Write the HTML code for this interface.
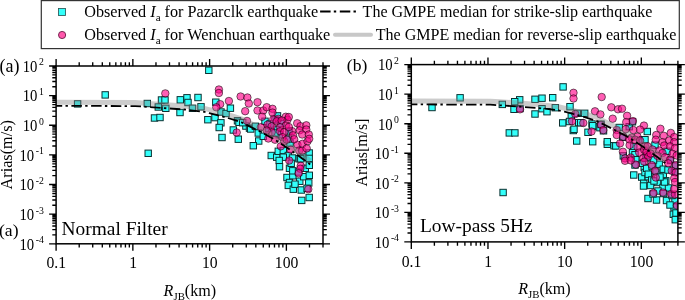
<!DOCTYPE html>
<html><head><meta charset="utf-8"><style>html,body{margin:0;padding:0;background:#fff;width:685px;height:300px;overflow:hidden}</style></head>
<body>
<svg width="685" height="300" viewBox="0 0 685 300" style="display:block;will-change:transform;font-family:'Liberation Serif', serif">
<style>.s{fill:#33fffa;stroke:#0c3232;stroke-width:1}.c{fill:rgb(255,0,137);fill-opacity:0.63;stroke:#000;stroke-opacity:0.6;stroke-width:0.9}</style>
<rect width="685" height="300" fill="#fff"/>
<g clip-path="url(#clipL)">
<rect x="74.4" y="100.7" width="6.4" height="6.4" class="s"/>
<rect x="102" y="91.7" width="6.4" height="6.4" class="s"/>
<rect x="144.1" y="100.3" width="6.4" height="6.4" class="s"/>
<rect x="151.3" y="114.8" width="6.4" height="6.4" class="s"/>
<rect x="156.8" y="114.3" width="6.4" height="6.4" class="s"/>
<rect x="145" y="150.1" width="6.4" height="6.4" class="s"/>
<rect x="205.6" y="67.1" width="6.4" height="6.4" class="s"/>
<rect x="158.3" y="96.8" width="6.4" height="6.4" class="s"/>
<rect x="161.8" y="96.8" width="6.4" height="6.4" class="s"/>
<rect x="155.1" y="103.8" width="6.4" height="6.4" class="s"/>
<rect x="162.6" y="105.1" width="6.4" height="6.4" class="s"/>
<rect x="177.1" y="96.6" width="6.4" height="6.4" class="s"/>
<rect x="183.8" y="94.6" width="6.4" height="6.4" class="s"/>
<rect x="184.8" y="99.3" width="6.4" height="6.4" class="s"/>
<rect x="194.8" y="94.3" width="6.4" height="6.4" class="s"/>
<rect x="176.8" y="109.3" width="6.4" height="6.4" class="s"/>
<rect x="189.3" y="105.1" width="6.4" height="6.4" class="s"/>
<rect x="197.8" y="103.6" width="6.4" height="6.4" class="s"/>
<rect x="212.6" y="99" width="6.4" height="6.4" class="s"/>
<rect x="204.65" y="116.5" width="6.4" height="6.4" class="s"/>
<rect x="211.8" y="114.4" width="6.4" height="6.4" class="s"/>
<rect x="217.7" y="119.6" width="6.4" height="6.4" class="s"/>
<rect x="216" y="124.3" width="6.4" height="6.4" class="s"/>
<rect x="217.8" y="108.8" width="6.4" height="6.4" class="s"/>
<rect x="222.8" y="110.3" width="6.4" height="6.4" class="s"/>
<rect x="227.2" y="105" width="6.4" height="6.4" class="s"/>
<rect x="234.3" y="117.6" width="6.4" height="6.4" class="s"/>
<rect x="230.1" y="126.8" width="6.4" height="6.4" class="s"/>
<rect x="218.8" y="134.3" width="6.4" height="6.4" class="s"/>
<rect x="235.1" y="136" width="6.4" height="6.4" class="s"/>
<rect x="242.7" y="122.85" width="6.4" height="6.4" class="s"/>
<rect x="246.3" y="124.95" width="6.4" height="6.4" class="s"/>
<rect x="235.8" y="119.1" width="6.4" height="6.4" class="s"/>
<rect x="239.5" y="119.5" width="6.4" height="6.4" class="s"/>
<rect x="247.5" y="125.8" width="6.4" height="6.4" class="s"/>
<rect x="255.5" y="137.8" width="6.4" height="6.4" class="s"/>
<rect x="250.1" y="142.5" width="6.4" height="6.4" class="s"/>
<rect x="261.8" y="118.1" width="6.4" height="6.4" class="s"/>
<rect x="274.3" y="112.7" width="6.4" height="6.4" class="s"/>
<rect x="252.2" y="123.1" width="6.4" height="6.4" class="s"/>
<rect x="255.1" y="129.8" width="6.4" height="6.4" class="s"/>
<rect x="260.1" y="133.1" width="6.4" height="6.4" class="s"/>
<rect x="273.5" y="126.1" width="6.4" height="6.4" class="s"/>
<rect x="276" y="131.5" width="6.4" height="6.4" class="s"/>
<rect x="268.05" y="152.3" width="6.4" height="6.4" class="s"/>
<rect x="273.5" y="154" width="6.4" height="6.4" class="s"/>
<rect x="275.1" y="148.1" width="6.4" height="6.4" class="s"/>
<rect x="280.1" y="147.3" width="6.4" height="6.4" class="s"/>
<rect x="286.8" y="139.8" width="6.4" height="6.4" class="s"/>
<rect x="285.1" y="152.3" width="6.4" height="6.4" class="s"/>
<rect x="280.1" y="154" width="6.4" height="6.4" class="s"/>
<rect x="276" y="157.3" width="6.4" height="6.4" class="s"/>
<rect x="296" y="155.6" width="6.4" height="6.4" class="s"/>
<rect x="300.1" y="154" width="6.4" height="6.4" class="s"/>
<rect x="289.3" y="154.8" width="6.4" height="6.4" class="s"/>
<rect x="306" y="149.8" width="6.4" height="6.4" class="s"/>
<rect x="306" y="155.2" width="6.4" height="6.4" class="s"/>
<rect x="297.6" y="155.6" width="6.4" height="6.4" class="s"/>
<rect x="276.3" y="163.5" width="6.4" height="6.4" class="s"/>
<rect x="286.3" y="165.1" width="6.4" height="6.4" class="s"/>
<rect x="283.8" y="174.3" width="6.4" height="6.4" class="s"/>
<rect x="289.6" y="172.6" width="6.4" height="6.4" class="s"/>
<rect x="296.55" y="178.05" width="6.4" height="6.4" class="s"/>
<rect x="286.3" y="179.3" width="6.4" height="6.4" class="s"/>
<rect x="289.6" y="167.6" width="6.4" height="6.4" class="s"/>
<rect x="288" y="160.1" width="6.4" height="6.4" class="s"/>
<rect x="302.1" y="165.1" width="6.4" height="6.4" class="s"/>
<rect x="300.5" y="173.5" width="6.4" height="6.4" class="s"/>
<rect x="285.1" y="182.2" width="6.4" height="6.4" class="s"/>
<rect x="290.1" y="186" width="6.4" height="6.4" class="s"/>
<rect x="291.8" y="181" width="6.4" height="6.4" class="s"/>
<rect x="298.05" y="186.8" width="6.4" height="6.4" class="s"/>
<rect x="305.55" y="179.7" width="6.4" height="6.4" class="s"/>
<rect x="306" y="194.3" width="6.4" height="6.4" class="s"/>
<rect x="298.5" y="197.2" width="6.4" height="6.4" class="s"/>
<rect x="303.9" y="185.1" width="6.4" height="6.4" class="s"/>
<rect x="306.1" y="162.1" width="6.4" height="6.4" class="s"/>
<rect x="306.1" y="172.1" width="6.4" height="6.4" class="s"/>
<rect x="295.3" y="168.8" width="6.4" height="6.4" class="s"/>
<rect x="271.8" y="116.8" width="6.4" height="6.4" class="s"/>
<rect x="277.8" y="120.3" width="6.4" height="6.4" class="s"/>
<rect x="265.3" y="125.3" width="6.4" height="6.4" class="s"/>
<rect x="285.8" y="127.8" width="6.4" height="6.4" class="s"/>
<rect x="285.3" y="135.8" width="6.4" height="6.4" class="s"/>
<rect x="271.8" y="129.8" width="6.4" height="6.4" class="s"/>
<rect x="266.8" y="120.8" width="6.4" height="6.4" class="s"/>
<circle cx="165.3" cy="93.4" r="3.75" class="c"/>
<circle cx="218.9" cy="89.5" r="3.75" class="c"/>
<circle cx="218.9" cy="93" r="3.75" class="c"/>
<circle cx="220.2" cy="104.2" r="3.75" class="c"/>
<circle cx="216.3" cy="107.3" r="3.75" class="c"/>
<circle cx="228.9" cy="101" r="3.75" class="c"/>
<circle cx="240.6" cy="96.5" r="3.75" class="c"/>
<circle cx="247.4" cy="97.5" r="3.75" class="c"/>
<circle cx="248.8" cy="103.5" r="3.75" class="c"/>
<circle cx="245.2" cy="111.2" r="3.75" class="c"/>
<circle cx="247" cy="120.95" r="3.75" class="c"/>
<circle cx="236.7" cy="132.5" r="3.75" class="c"/>
<circle cx="257.5" cy="102.2" r="3.75" class="c"/>
<circle cx="257.5" cy="110.5" r="3.75" class="c"/>
<circle cx="263.3" cy="110.5" r="3.75" class="c"/>
<circle cx="266.7" cy="107.2" r="3.75" class="c"/>
<circle cx="272.5" cy="108.8" r="3.75" class="c"/>
<circle cx="272.5" cy="112.6" r="3.75" class="c"/>
<circle cx="262.1" cy="116.75" r="3.75" class="c"/>
<circle cx="273.35" cy="119.25" r="3.75" class="c"/>
<circle cx="278.3" cy="118.8" r="3.75" class="c"/>
<circle cx="285.8" cy="116.75" r="3.75" class="c"/>
<circle cx="287.5" cy="119.7" r="3.75" class="c"/>
<circle cx="260.8" cy="127.2" r="3.75" class="c"/>
<circle cx="267.5" cy="124.7" r="3.75" class="c"/>
<circle cx="271.7" cy="126.3" r="3.75" class="c"/>
<circle cx="276.7" cy="121.3" r="3.75" class="c"/>
<circle cx="281.7" cy="120.5" r="3.75" class="c"/>
<circle cx="285.8" cy="125.5" r="3.75" class="c"/>
<circle cx="280" cy="127.2" r="3.75" class="c"/>
<circle cx="271.7" cy="132.2" r="3.75" class="c"/>
<circle cx="266.7" cy="130.5" r="3.75" class="c"/>
<circle cx="280" cy="131.3" r="3.75" class="c"/>
<circle cx="284.2" cy="132.2" r="3.75" class="c"/>
<circle cx="282.5" cy="137.2" r="3.75" class="c"/>
<circle cx="288.8" cy="117" r="3.75" class="c"/>
<circle cx="297.2" cy="123.25" r="3.75" class="c"/>
<circle cx="300.5" cy="126.2" r="3.75" class="c"/>
<circle cx="306.3" cy="125.3" r="3.75" class="c"/>
<circle cx="299.7" cy="130.3" r="3.75" class="c"/>
<circle cx="306.3" cy="129.5" r="3.75" class="c"/>
<circle cx="292.2" cy="131.2" r="3.75" class="c"/>
<circle cx="288.8" cy="127" r="3.75" class="c"/>
<circle cx="302.2" cy="134.5" r="3.75" class="c"/>
<circle cx="308.8" cy="134.5" r="3.75" class="c"/>
<circle cx="293" cy="135.3" r="3.75" class="c"/>
<circle cx="275" cy="139.7" r="3.75" class="c"/>
<circle cx="280.8" cy="146.3" r="3.75" class="c"/>
<circle cx="284.2" cy="141.3" r="3.75" class="c"/>
<circle cx="290.8" cy="149.7" r="3.75" class="c"/>
<circle cx="297.5" cy="144.7" r="3.75" class="c"/>
<circle cx="299.2" cy="150.5" r="3.75" class="c"/>
<circle cx="302.5" cy="143.8" r="3.75" class="c"/>
<circle cx="294.2" cy="139.25" r="3.75" class="c"/>
<circle cx="289.2" cy="160.5" r="3.75" class="c"/>
<circle cx="302.1" cy="150.65" r="3.75" class="c"/>
<circle cx="307.5" cy="141.3" r="3.75" class="c"/>
<circle cx="309.2" cy="138.8" r="3.75" class="c"/>
<circle cx="306.7" cy="148.4" r="3.75" class="c"/>
<circle cx="286.7" cy="139.7" r="3.75" class="c"/>
<circle cx="300.75" cy="165.8" r="3.75" class="c"/>
<circle cx="300.3" cy="168.75" r="3.75" class="c"/>
<circle cx="298.7" cy="173.3" r="3.75" class="c"/>
<circle cx="308.3" cy="189.2" r="3.75" class="c"/>
<circle cx="268.3" cy="138.5" r="3.75" class="c"/>
<path d="M56.1 102.3 L135.1 102.6 L144.7 103.2 L184.1 106 L203.1 108.2 L209.3 109.6 L227.3 114.3 L241.3 118.8 L259.1 127.6 L274.8 136.1 L289.9 146.1 L301.8 154.7 L310.3 161.1" stroke="rgb(128,128,128)" stroke-opacity="0.4" stroke-width="5" fill="none" stroke-linejoin="round"/>
<path d="M56.1 105.8 L135.1 106.1 L144.7 106.7 L184.1 109.5 L203.1 111.7 L209.3 113.1 L227.3 117.8 L241.3 122.3 L259.1 131.1 L274.8 139.6 L289.9 149.6 L301.8 158.2 L310.3 164.6" stroke="#000" stroke-width="1.8" fill="none" stroke-dasharray="10.5 3.3 2.4 3.5" stroke-dashoffset="4.4"/>
</g>
<path d="M56.1 243.8h-7M323 243.8h7M56.1 234.88h-3.8M323 234.88h3.8M56.1 229.66h-3.8M323 229.66h3.8M56.1 225.96h-3.8M323 225.96h3.8M56.1 223.09h-3.8M323 223.09h3.8M56.1 220.74h-3.8M323 220.74h3.8M56.1 218.76h-3.8M323 218.76h3.8M56.1 217.04h-3.8M323 217.04h3.8M56.1 215.52h-3.8M323 215.52h3.8M56.1 214.17h-7M323 214.17h7M56.1 205.25h-3.8M323 205.25h3.8M56.1 200.03h-3.8M323 200.03h3.8M56.1 196.33h-3.8M323 196.33h3.8M56.1 193.45h-3.8M323 193.45h3.8M56.1 191.11h-3.8M323 191.11h3.8M56.1 189.12h-3.8M323 189.12h3.8M56.1 187.41h-3.8M323 187.41h3.8M56.1 185.89h-3.8M323 185.89h3.8M56.1 184.53h-7M323 184.53h7M56.1 175.61h-3.8M323 175.61h3.8M56.1 170.39h-3.8M323 170.39h3.8M56.1 166.69h-3.8M323 166.69h3.8M56.1 163.82h-3.8M323 163.82h3.8M56.1 161.47h-3.8M323 161.47h3.8M56.1 159.49h-3.8M323 159.49h3.8M56.1 157.77h-3.8M323 157.77h3.8M56.1 156.26h-3.8M323 156.26h3.8M56.1 154.9h-7M323 154.9h7M56.1 145.98h-3.8M323 145.98h3.8M56.1 140.76h-3.8M323 140.76h3.8M56.1 137.06h-3.8M323 137.06h3.8M56.1 134.19h-3.8M323 134.19h3.8M56.1 131.84h-3.8M323 131.84h3.8M56.1 129.86h-3.8M323 129.86h3.8M56.1 128.14h-3.8M323 128.14h3.8M56.1 126.62h-3.8M323 126.62h3.8M56.1 125.27h-7M323 125.27h7M56.1 116.35h-3.8M323 116.35h3.8M56.1 111.13h-3.8M323 111.13h3.8M56.1 107.43h-3.8M323 107.43h3.8M56.1 104.55h-3.8M323 104.55h3.8M56.1 102.21h-3.8M323 102.21h3.8M56.1 100.22h-3.8M323 100.22h3.8M56.1 98.51h-3.8M323 98.51h3.8M56.1 96.99h-3.8M323 96.99h3.8M56.1 95.63h-7M323 95.63h7M56.1 86.71h-3.8M323 86.71h3.8M56.1 81.49h-3.8M323 81.49h3.8M56.1 77.79h-3.8M323 77.79h3.8M56.1 74.92h-3.8M323 74.92h3.8M56.1 72.57h-3.8M323 72.57h3.8M56.1 70.59h-3.8M323 70.59h3.8M56.1 68.87h-3.8M323 68.87h3.8M56.1 67.36h-3.8M323 67.36h3.8M56.1 66h-7M323 66h7M56.1 243.8v7M56.1 66v-7M79.21 243.8v3.8M79.21 66v-3.8M92.72 243.8v3.8M92.72 66v-3.8M102.31 243.8v3.8M102.31 66v-3.8M109.75 243.8v3.8M109.75 66v-3.8M115.83 243.8v3.8M115.83 66v-3.8M120.97 243.8v3.8M120.97 66v-3.8M125.42 243.8v3.8M125.42 66v-3.8M129.35 243.8v3.8M129.35 66v-3.8M132.86 243.8v7M132.86 66v-7M155.97 243.8v3.8M155.97 66v-3.8M169.48 243.8v3.8M169.48 66v-3.8M179.07 243.8v3.8M179.07 66v-3.8M186.51 243.8v3.8M186.51 66v-3.8M192.59 243.8v3.8M192.59 66v-3.8M197.73 243.8v3.8M197.73 66v-3.8M202.18 243.8v3.8M202.18 66v-3.8M206.11 243.8v3.8M206.11 66v-3.8M209.62 243.8v7M209.62 66v-7M232.72 243.8v3.8M232.72 66v-3.8M246.24 243.8v3.8M246.24 66v-3.8M255.83 243.8v3.8M255.83 66v-3.8M263.27 243.8v3.8M263.27 66v-3.8M269.35 243.8v3.8M269.35 66v-3.8M274.49 243.8v3.8M274.49 66v-3.8M278.94 243.8v3.8M278.94 66v-3.8M282.86 243.8v3.8M282.86 66v-3.8M286.38 243.8v7M286.38 66v-7M309.48 243.8v3.8M309.48 66v-3.8M323 243.8v3.8M323 66v-3.8" stroke="#000" stroke-width="1.35" fill="none"/>
<rect x="56.1" y="66" width="266.9" height="177.8" fill="none" stroke="#000" stroke-width="1.5"/>
<text transform="translate(43.8 249.6) scale(0.92 1)" text-anchor="end" font-size="16">10<tspan font-size="10.6" dx="1.6" dy="-6.4">-4</tspan></text>
<text transform="translate(43.8 219.97) scale(0.92 1)" text-anchor="end" font-size="16">10<tspan font-size="10.6" dx="1.6" dy="-6.4">-3</tspan></text>
<text transform="translate(43.8 190.33) scale(0.92 1)" text-anchor="end" font-size="16">10<tspan font-size="10.6" dx="1.6" dy="-6.4">-2</tspan></text>
<text transform="translate(43.8 160.7) scale(0.92 1)" text-anchor="end" font-size="16">10<tspan font-size="10.6" dx="1.6" dy="-6.4">-1</tspan></text>
<text transform="translate(43.8 131.07) scale(0.92 1)" text-anchor="end" font-size="16">10<tspan font-size="10.6" dx="1.6" dy="-6.4">0</tspan></text>
<text transform="translate(43.8 101.43) scale(0.92 1)" text-anchor="end" font-size="16">10<tspan font-size="10.6" dx="1.6" dy="-6.4">1</tspan></text>
<text transform="translate(43.8 71.8) scale(0.92 1)" text-anchor="end" font-size="16">10<tspan font-size="10.6" dx="1.6" dy="-6.4">2</tspan></text>
<text transform="translate(56.3 268.3) scale(0.98 1)" text-anchor="middle" font-size="16">0.1</text>
<text transform="translate(133.06 268.3) scale(0.98 1)" text-anchor="middle" font-size="16">1</text>
<text transform="translate(209.82 268.3) scale(0.98 1)" text-anchor="middle" font-size="16">10</text>
<text transform="translate(286.58 268.3) scale(0.98 1)" text-anchor="middle" font-size="16">100</text>
<g clip-path="url(#clipR)">
<rect x="428.8" y="104.3" width="6.4" height="6.4" class="s"/>
<rect x="456.9" y="94.6" width="6.4" height="6.4" class="s"/>
<rect x="499.1" y="101.2" width="6.4" height="6.4" class="s"/>
<rect x="506.1" y="129.7" width="6.4" height="6.4" class="s"/>
<rect x="511.7" y="129.7" width="6.4" height="6.4" class="s"/>
<rect x="499.9" y="189.3" width="6.4" height="6.4" class="s"/>
<rect x="559.9" y="83.7" width="6.4" height="6.4" class="s"/>
<rect x="549.5" y="94.5" width="6.4" height="6.4" class="s"/>
<rect x="538.8" y="95" width="6.4" height="6.4" class="s"/>
<rect x="531.8" y="96.1" width="6.4" height="6.4" class="s"/>
<rect x="516.5" y="96.6" width="6.4" height="6.4" class="s"/>
<rect x="511.5" y="98.5" width="6.4" height="6.4" class="s"/>
<rect x="510.8" y="106.1" width="6.4" height="6.4" class="s"/>
<rect x="531.8" y="110.8" width="6.4" height="6.4" class="s"/>
<rect x="538.8" y="105.5" width="6.4" height="6.4" class="s"/>
<rect x="543.8" y="108.5" width="6.4" height="6.4" class="s"/>
<rect x="552.1" y="104.5" width="6.4" height="6.4" class="s"/>
<rect x="566.8" y="103.5" width="6.4" height="6.4" class="s"/>
<rect x="559.5" y="119.7" width="6.4" height="6.4" class="s"/>
<rect x="568.1" y="112.8" width="6.4" height="6.4" class="s"/>
<rect x="575.5" y="119.5" width="6.4" height="6.4" class="s"/>
<rect x="570.1" y="127.3" width="6.4" height="6.4" class="s"/>
<rect x="581.5" y="110.1" width="6.4" height="6.4" class="s"/>
<rect x="574.1" y="110.1" width="6.4" height="6.4" class="s"/>
<rect x="577.5" y="119.5" width="6.4" height="6.4" class="s"/>
<rect x="588.8" y="120.8" width="6.4" height="6.4" class="s"/>
<rect x="595.5" y="123.5" width="6.4" height="6.4" class="s"/>
<rect x="570.8" y="126.1" width="6.4" height="6.4" class="s"/>
<rect x="573.5" y="137.8" width="6.4" height="6.4" class="s"/>
<rect x="584.8" y="129.1" width="6.4" height="6.4" class="s"/>
<rect x="589.5" y="138.5" width="6.4" height="6.4" class="s"/>
<rect x="604.1" y="141.1" width="6.4" height="6.4" class="s"/>
<rect x="604.1" y="138.5" width="6.4" height="6.4" class="s"/>
<rect x="589.5" y="122.5" width="6.4" height="6.4" class="s"/>
<rect x="596.8" y="124.5" width="6.4" height="6.4" class="s"/>
<rect x="616" y="124.3" width="6.4" height="6.4" class="s"/>
<rect x="626" y="123.5" width="6.4" height="6.4" class="s"/>
<rect x="644.1" y="128.3" width="6.4" height="6.4" class="s"/>
<rect x="619.5" y="134.1" width="6.4" height="6.4" class="s"/>
<rect x="610.8" y="142.5" width="6.4" height="6.4" class="s"/>
<rect x="612.6" y="142.7" width="6.4" height="6.4" class="s"/>
<rect x="630.55" y="143.55" width="6.4" height="6.4" class="s"/>
<rect x="629.3" y="149.4" width="6.4" height="6.4" class="s"/>
<rect x="631.8" y="151.5" width="6.4" height="6.4" class="s"/>
<rect x="620.1" y="152.7" width="6.4" height="6.4" class="s"/>
<rect x="632.6" y="156.5" width="6.4" height="6.4" class="s"/>
<rect x="639.3" y="136.5" width="6.4" height="6.4" class="s"/>
<rect x="651.8" y="141.9" width="6.4" height="6.4" class="s"/>
<rect x="663.9" y="148.1" width="6.4" height="6.4" class="s"/>
<rect x="641.8" y="136.5" width="6.4" height="6.4" class="s"/>
<rect x="630.55" y="171.8" width="6.4" height="6.4" class="s"/>
<rect x="638.5" y="173.9" width="6.4" height="6.4" class="s"/>
<rect x="641" y="164.3" width="6.4" height="6.4" class="s"/>
<rect x="641.8" y="169.3" width="6.4" height="6.4" class="s"/>
<rect x="640.55" y="180.1" width="6.4" height="6.4" class="s"/>
<rect x="631.8" y="161.8" width="6.4" height="6.4" class="s"/>
<rect x="639.3" y="160.1" width="6.4" height="6.4" class="s"/>
<rect x="645.1" y="173.5" width="6.4" height="6.4" class="s"/>
<rect x="643.5" y="165.1" width="6.4" height="6.4" class="s"/>
<rect x="645.1" y="171" width="6.4" height="6.4" class="s"/>
<rect x="648.5" y="176.8" width="6.4" height="6.4" class="s"/>
<rect x="656" y="161" width="6.4" height="6.4" class="s"/>
<rect x="660.1" y="166" width="6.4" height="6.4" class="s"/>
<rect x="660.1" y="172.6" width="6.4" height="6.4" class="s"/>
<rect x="662.6" y="177.6" width="6.4" height="6.4" class="s"/>
<rect x="658.5" y="178.5" width="6.4" height="6.4" class="s"/>
<rect x="654.3" y="179.3" width="6.4" height="6.4" class="s"/>
<rect x="640.3" y="182.8" width="6.4" height="6.4" class="s"/>
<rect x="647.3" y="182.3" width="6.4" height="6.4" class="s"/>
<rect x="644.8" y="195.3" width="6.4" height="6.4" class="s"/>
<rect x="653.3" y="196.8" width="6.4" height="6.4" class="s"/>
<rect x="663.3" y="197.3" width="6.4" height="6.4" class="s"/>
<rect x="659.8" y="184.3" width="6.4" height="6.4" class="s"/>
<rect x="665.3" y="184.8" width="6.4" height="6.4" class="s"/>
<rect x="661.3" y="178.8" width="6.4" height="6.4" class="s"/>
<rect x="654.8" y="187.8" width="6.4" height="6.4" class="s"/>
<rect x="671.8" y="197.8" width="6.4" height="6.4" class="s"/>
<rect x="670.8" y="203.8" width="6.4" height="6.4" class="s"/>
<rect x="650.8" y="177.8" width="6.4" height="6.4" class="s"/>
<rect x="670.1" y="211.1" width="6.4" height="6.4" class="s"/>
<rect x="672.1" y="216.5" width="6.4" height="6.4" class="s"/>
<rect x="672.8" y="209.8" width="6.4" height="6.4" class="s"/>
<rect x="666.8" y="201.8" width="6.4" height="6.4" class="s"/>
<rect x="516.8" y="105.3" width="6.4" height="6.4" class="s"/>
<rect x="649.8" y="190.8" width="6.4" height="6.4" class="s"/>
<rect x="660.3" y="190.3" width="6.4" height="6.4" class="s"/>
<rect x="668.8" y="192.3" width="6.4" height="6.4" class="s"/>
<rect x="664.8" y="166.8" width="6.4" height="6.4" class="s"/>
<rect x="671.8" y="168.8" width="6.4" height="6.4" class="s"/>
<rect x="648.8" y="163.3" width="6.4" height="6.4" class="s"/>
<rect x="652.8" y="168.8" width="6.4" height="6.4" class="s"/>
<rect x="656.8" y="173.8" width="6.4" height="6.4" class="s"/>
<rect x="667.3" y="157.3" width="6.4" height="6.4" class="s"/>
<rect x="672.3" y="162.8" width="6.4" height="6.4" class="s"/>
<rect x="642.8" y="154.8" width="6.4" height="6.4" class="s"/>
<rect x="650.3" y="156.8" width="6.4" height="6.4" class="s"/>
<rect x="597.8" y="121" width="6.4" height="6.4" class="s"/>
<rect x="600.3" y="127.6" width="6.4" height="6.4" class="s"/>
<rect x="566.3" y="118.3" width="6.4" height="6.4" class="s"/>
<rect x="629.3" y="118.6" width="6.4" height="6.4" class="s"/>
<circle cx="573.5" cy="92.8" r="3.75" class="c"/>
<circle cx="573.5" cy="98.5" r="3.75" class="c"/>
<circle cx="601.7" cy="97" r="3.75" class="c"/>
<circle cx="595" cy="111.3" r="3.75" class="c"/>
<circle cx="600.4" cy="114.4" r="3.75" class="c"/>
<circle cx="611.3" cy="107.3" r="3.75" class="c"/>
<circle cx="612.7" cy="118.7" r="3.75" class="c"/>
<circle cx="575.3" cy="114" r="3.75" class="c"/>
<circle cx="572" cy="121.3" r="3.75" class="c"/>
<circle cx="583.3" cy="123" r="3.75" class="c"/>
<circle cx="601" cy="124.85" r="3.75" class="c"/>
<circle cx="591.5" cy="131.5" r="3.75" class="c"/>
<circle cx="603.3" cy="130.15" r="3.75" class="c"/>
<circle cx="520" cy="109.3" r="3.75" class="c"/>
<circle cx="627.1" cy="115.8" r="3.75" class="c"/>
<circle cx="626.25" cy="122.1" r="3.75" class="c"/>
<circle cx="632.95" cy="121.05" r="3.75" class="c"/>
<circle cx="643.95" cy="125.6" r="3.75" class="c"/>
<circle cx="640" cy="129.6" r="3.75" class="c"/>
<circle cx="633.3" cy="130" r="3.75" class="c"/>
<circle cx="625.8" cy="129.2" r="3.75" class="c"/>
<circle cx="616.7" cy="130" r="3.75" class="c"/>
<circle cx="616.7" cy="135" r="3.75" class="c"/>
<circle cx="623.3" cy="136.7" r="3.75" class="c"/>
<circle cx="631.7" cy="137.5" r="3.75" class="c"/>
<circle cx="637.5" cy="136.7" r="3.75" class="c"/>
<circle cx="618" cy="109.3" r="3.75" class="c"/>
<circle cx="622" cy="108.7" r="3.75" class="c"/>
<circle cx="660.4" cy="128.75" r="3.75" class="c"/>
<circle cx="656.25" cy="135" r="3.75" class="c"/>
<circle cx="663.75" cy="135.8" r="3.75" class="c"/>
<circle cx="670.8" cy="132.9" r="3.75" class="c"/>
<circle cx="674.2" cy="137.1" r="3.75" class="c"/>
<circle cx="620" cy="143.4" r="3.75" class="c"/>
<circle cx="622.9" cy="151.75" r="3.75" class="c"/>
<circle cx="629.6" cy="145.1" r="3.75" class="c"/>
<circle cx="630.8" cy="157.6" r="3.75" class="c"/>
<circle cx="625" cy="158.4" r="3.75" class="c"/>
<circle cx="637.5" cy="147.2" r="3.75" class="c"/>
<circle cx="639.2" cy="152.6" r="3.75" class="c"/>
<circle cx="644.2" cy="149.7" r="3.75" class="c"/>
<circle cx="645" cy="146.3" r="3.75" class="c"/>
<circle cx="643.3" cy="158" r="3.75" class="c"/>
<circle cx="647.5" cy="154.7" r="3.75" class="c"/>
<circle cx="629.2" cy="139.25" r="3.75" class="c"/>
<circle cx="635" cy="139.7" r="3.75" class="c"/>
<circle cx="640" cy="140.5" r="3.75" class="c"/>
<circle cx="655.8" cy="139.7" r="3.75" class="c"/>
<circle cx="662.5" cy="142.2" r="3.75" class="c"/>
<circle cx="669.2" cy="140.5" r="3.75" class="c"/>
<circle cx="674.2" cy="142.2" r="3.75" class="c"/>
<circle cx="664.2" cy="145.5" r="3.75" class="c"/>
<circle cx="670" cy="146.3" r="3.75" class="c"/>
<circle cx="675" cy="148" r="3.75" class="c"/>
<circle cx="659.2" cy="150.5" r="3.75" class="c"/>
<circle cx="662.5" cy="153" r="3.75" class="c"/>
<circle cx="672.5" cy="153.8" r="3.75" class="c"/>
<circle cx="676.7" cy="155.5" r="3.75" class="c"/>
<circle cx="657.5" cy="155.9" r="3.75" class="c"/>
<circle cx="665" cy="157.2" r="3.75" class="c"/>
<circle cx="670" cy="159.7" r="3.75" class="c"/>
<circle cx="646.7" cy="151.75" r="3.75" class="c"/>
<circle cx="648.3" cy="156.75" r="3.75" class="c"/>
<circle cx="647.5" cy="146.3" r="3.75" class="c"/>
<circle cx="625" cy="160.8" r="3.75" class="c"/>
<circle cx="635.8" cy="164.6" r="3.75" class="c"/>
<circle cx="644.2" cy="161.7" r="3.75" class="c"/>
<circle cx="630.8" cy="160.4" r="3.75" class="c"/>
<circle cx="651.7" cy="165" r="3.75" class="c"/>
<circle cx="655" cy="170.8" r="3.75" class="c"/>
<circle cx="655.8" cy="177.5" r="3.75" class="c"/>
<circle cx="668.3" cy="163.3" r="3.75" class="c"/>
<circle cx="675.8" cy="165" r="3.75" class="c"/>
<circle cx="671.7" cy="170.8" r="3.75" class="c"/>
<circle cx="675.8" cy="172.5" r="3.75" class="c"/>
<circle cx="674.2" cy="178.3" r="3.75" class="c"/>
<circle cx="653.5" cy="193" r="3.75" class="c"/>
<circle cx="663" cy="192.5" r="3.75" class="c"/>
<circle cx="671" cy="194" r="3.75" class="c"/>
<circle cx="675" cy="194.5" r="3.75" class="c"/>
<circle cx="674" cy="189" r="3.75" class="c"/>
<circle cx="675" cy="182" r="3.75" class="c"/>
<circle cx="677" cy="205.5" r="3.75" class="c"/>
<circle cx="652.5" cy="149.5" r="3.75" class="c"/>
<circle cx="650.5" cy="153.5" r="3.75" class="c"/>
<path d="M411.3 100.9 L490.3 101.2 L499.9 101.8 L539.3 104.6 L558.3 106.8 L564.5 108.2 L582.5 112.9 L596.5 117.4 L614.3 126.2 L630 134.7 L645.1 144.7 L657 153.3 L665.5 159.7" stroke="rgb(128,128,128)" stroke-opacity="0.4" stroke-width="5" fill="none" stroke-linejoin="round"/>
<path d="M411.3 104.4 L490.3 104.7 L499.9 105.3 L539.3 108.1 L558.3 110.3 L564.5 111.7 L582.5 116.4 L596.5 120.9 L614.3 129.7 L630 138.2 L645.1 148.2 L657 156.8 L665.5 163.2" stroke="#000" stroke-width="1.8" fill="none" stroke-dasharray="10.5 3.3 2.4 3.5" stroke-dashoffset="4.4"/>
</g>
<path d="M411.3 241.9h-7M677.9 241.9h7M411.3 233h-3.8M677.9 233h3.8M411.3 227.8h-3.8M677.9 227.8h3.8M411.3 224.11h-3.8M677.9 224.11h3.8M411.3 221.25h-3.8M677.9 221.25h3.8M411.3 218.91h-3.8M677.9 218.91h3.8M411.3 216.93h-3.8M677.9 216.93h3.8M411.3 215.21h-3.8M677.9 215.21h3.8M411.3 213.7h-3.8M677.9 213.7h3.8M411.3 212.35h-7M677.9 212.35h7M411.3 203.45h-3.8M677.9 203.45h3.8M411.3 198.25h-3.8M677.9 198.25h3.8M411.3 194.56h-3.8M677.9 194.56h3.8M411.3 191.7h-3.8M677.9 191.7h3.8M411.3 189.36h-3.8M677.9 189.36h3.8M411.3 187.38h-3.8M677.9 187.38h3.8M411.3 185.66h-3.8M677.9 185.66h3.8M411.3 184.15h-3.8M677.9 184.15h3.8M411.3 182.8h-7M677.9 182.8h7M411.3 173.9h-3.8M677.9 173.9h3.8M411.3 168.7h-3.8M677.9 168.7h3.8M411.3 165.01h-3.8M677.9 165.01h3.8M411.3 162.15h-3.8M677.9 162.15h3.8M411.3 159.81h-3.8M677.9 159.81h3.8M411.3 157.83h-3.8M677.9 157.83h3.8M411.3 156.11h-3.8M677.9 156.11h3.8M411.3 154.6h-3.8M677.9 154.6h3.8M411.3 153.25h-7M677.9 153.25h7M411.3 144.35h-3.8M677.9 144.35h3.8M411.3 139.15h-3.8M677.9 139.15h3.8M411.3 135.46h-3.8M677.9 135.46h3.8M411.3 132.6h-3.8M677.9 132.6h3.8M411.3 130.26h-3.8M677.9 130.26h3.8M411.3 128.28h-3.8M677.9 128.28h3.8M411.3 126.56h-3.8M677.9 126.56h3.8M411.3 125.05h-3.8M677.9 125.05h3.8M411.3 123.7h-7M677.9 123.7h7M411.3 114.8h-3.8M677.9 114.8h3.8M411.3 109.6h-3.8M677.9 109.6h3.8M411.3 105.91h-3.8M677.9 105.91h3.8M411.3 103.05h-3.8M677.9 103.05h3.8M411.3 100.71h-3.8M677.9 100.71h3.8M411.3 98.73h-3.8M677.9 98.73h3.8M411.3 97.01h-3.8M677.9 97.01h3.8M411.3 95.5h-3.8M677.9 95.5h3.8M411.3 94.15h-7M677.9 94.15h7M411.3 85.25h-3.8M677.9 85.25h3.8M411.3 80.05h-3.8M677.9 80.05h3.8M411.3 76.36h-3.8M677.9 76.36h3.8M411.3 73.5h-3.8M677.9 73.5h3.8M411.3 71.16h-3.8M677.9 71.16h3.8M411.3 69.18h-3.8M677.9 69.18h3.8M411.3 67.46h-3.8M677.9 67.46h3.8M411.3 65.95h-3.8M677.9 65.95h3.8M411.3 64.6h-7M677.9 64.6h7M411.3 241.9v7M411.3 64.6v-7M434.38 241.9v3.8M434.38 64.6v-3.8M447.88 241.9v3.8M447.88 64.6v-3.8M457.46 241.9v3.8M457.46 64.6v-3.8M464.89 241.9v3.8M464.89 64.6v-3.8M470.96 241.9v3.8M470.96 64.6v-3.8M476.1 241.9v3.8M476.1 64.6v-3.8M480.54 241.9v3.8M480.54 64.6v-3.8M484.46 241.9v3.8M484.46 64.6v-3.8M487.97 241.9v7M487.97 64.6v-7M511.05 241.9v3.8M511.05 64.6v-3.8M524.55 241.9v3.8M524.55 64.6v-3.8M534.13 241.9v3.8M534.13 64.6v-3.8M541.56 241.9v3.8M541.56 64.6v-3.8M547.64 241.9v3.8M547.64 64.6v-3.8M552.77 241.9v3.8M552.77 64.6v-3.8M557.21 241.9v3.8M557.21 64.6v-3.8M561.14 241.9v3.8M561.14 64.6v-3.8M564.65 241.9v7M564.65 64.6v-7M587.73 241.9v3.8M587.73 64.6v-3.8M601.23 241.9v3.8M601.23 64.6v-3.8M610.81 241.9v3.8M610.81 64.6v-3.8M618.24 241.9v3.8M618.24 64.6v-3.8M624.31 241.9v3.8M624.31 64.6v-3.8M629.44 241.9v3.8M629.44 64.6v-3.8M633.89 241.9v3.8M633.89 64.6v-3.8M637.81 241.9v3.8M637.81 64.6v-3.8M641.32 241.9v7M641.32 64.6v-7M664.4 241.9v3.8M664.4 64.6v-3.8M677.9 241.9v3.8M677.9 64.6v-3.8" stroke="#000" stroke-width="1.35" fill="none"/>
<rect x="411.3" y="64.6" width="266.6" height="177.3" fill="none" stroke="#000" stroke-width="1.5"/>
<text transform="translate(399 247.7) scale(0.92 1)" text-anchor="end" font-size="16">10<tspan font-size="10.6" dx="1.6" dy="-6.4">-4</tspan></text>
<text transform="translate(399 218.15) scale(0.92 1)" text-anchor="end" font-size="16">10<tspan font-size="10.6" dx="1.6" dy="-6.4">-3</tspan></text>
<text transform="translate(399 188.6) scale(0.92 1)" text-anchor="end" font-size="16">10<tspan font-size="10.6" dx="1.6" dy="-6.4">-2</tspan></text>
<text transform="translate(399 159.05) scale(0.92 1)" text-anchor="end" font-size="16">10<tspan font-size="10.6" dx="1.6" dy="-6.4">-1</tspan></text>
<text transform="translate(399 129.5) scale(0.92 1)" text-anchor="end" font-size="16">10<tspan font-size="10.6" dx="1.6" dy="-6.4">0</tspan></text>
<text transform="translate(399 99.95) scale(0.92 1)" text-anchor="end" font-size="16">10<tspan font-size="10.6" dx="1.6" dy="-6.4">1</tspan></text>
<text transform="translate(399 70.4) scale(0.92 1)" text-anchor="end" font-size="16">10<tspan font-size="10.6" dx="1.6" dy="-6.4">2</tspan></text>
<text transform="translate(411.5 266.8) scale(0.98 1)" text-anchor="middle" font-size="16">0.1</text>
<text transform="translate(488.17 266.8) scale(0.98 1)" text-anchor="middle" font-size="16">1</text>
<text transform="translate(564.85 266.8) scale(0.98 1)" text-anchor="middle" font-size="16">10</text>
<text transform="translate(641.52 266.8) scale(0.98 1)" text-anchor="middle" font-size="16">100</text>
<defs>
<clipPath id="clipL"><rect x="56.1" y="66" width="266.9" height="177.8"/></clipPath>
<clipPath id="clipR"><rect x="411.3" y="64.6" width="266.6" height="177.3"/></clipPath>
</defs>
<text transform="translate(11.8 189.4) rotate(-90)" font-size="16.2">Arias(m/s)</text>
<text transform="translate(367 186.5) rotate(-90)" font-size="15.9">Arias[m/s]</text>
<text x="163.6" y="296" font-size="16.1"><tspan font-style="italic">R</tspan><tspan font-size="10.8" dy="3.8">JB</tspan><tspan dy="-3.8">(km)</tspan></text>
<text x="518.2" y="294.2" font-size="16.1"><tspan font-style="italic">R</tspan><tspan font-size="10.8" dy="3.8">JB</tspan><tspan dy="-3.8">(km)</tspan></text>
<text x="-0.6" y="71.5" font-size="18">(a)</text>
<text x="-1" y="236.2" font-size="17.6">(a)</text>
<text x="346.8" y="70.6" font-size="17.6">(b)</text>
<text x="61.6" y="234.5" font-size="19.4">Normal Filter</text>
<text x="420" y="231.9" font-size="19.4">Low-pass 5Hz</text>
<rect x="41.3" y="0.6" width="638" height="48" fill="#fff" stroke="#333" stroke-width="1.2"/>
<rect x="58.5" y="8.5" width="7" height="7" fill="#33fffa" stroke="#2a5656" stroke-width="0.85"/>
<circle cx="62.1" cy="35" r="3.6" fill="#ff58ac" stroke="#6a1a44" stroke-width="0.9"/>
<text x="84.2" y="17" font-size="16.2">Observed <tspan font-style="italic">I</tspan><tspan font-size="11" dy="4">a</tspan><tspan dy="-4"> for Pazarclk earthquake</tspan></text>
<text x="84.2" y="40.3" font-size="16.2">Observed <tspan font-style="italic">I</tspan><tspan font-size="11" dy="4">a</tspan><tspan dy="-4"> for Wenchuan earthquake</tspan></text>
<path d="M320.1 11.5H356" stroke="#000" stroke-width="2.2" stroke-dasharray="10.5 3.2 2.4 3.6"/>
<path d="M335 34.7H371" stroke="#c8c8c8" stroke-width="4" stroke-linecap="round"/>
<text x="362.6" y="17" font-size="16.05">The GMPE median for strike-slip earthquake</text>
<text x="375.8" y="40.3" font-size="16.05">The GMPE median for reverse-slip earthquake</text>
</svg>
</body></html>
